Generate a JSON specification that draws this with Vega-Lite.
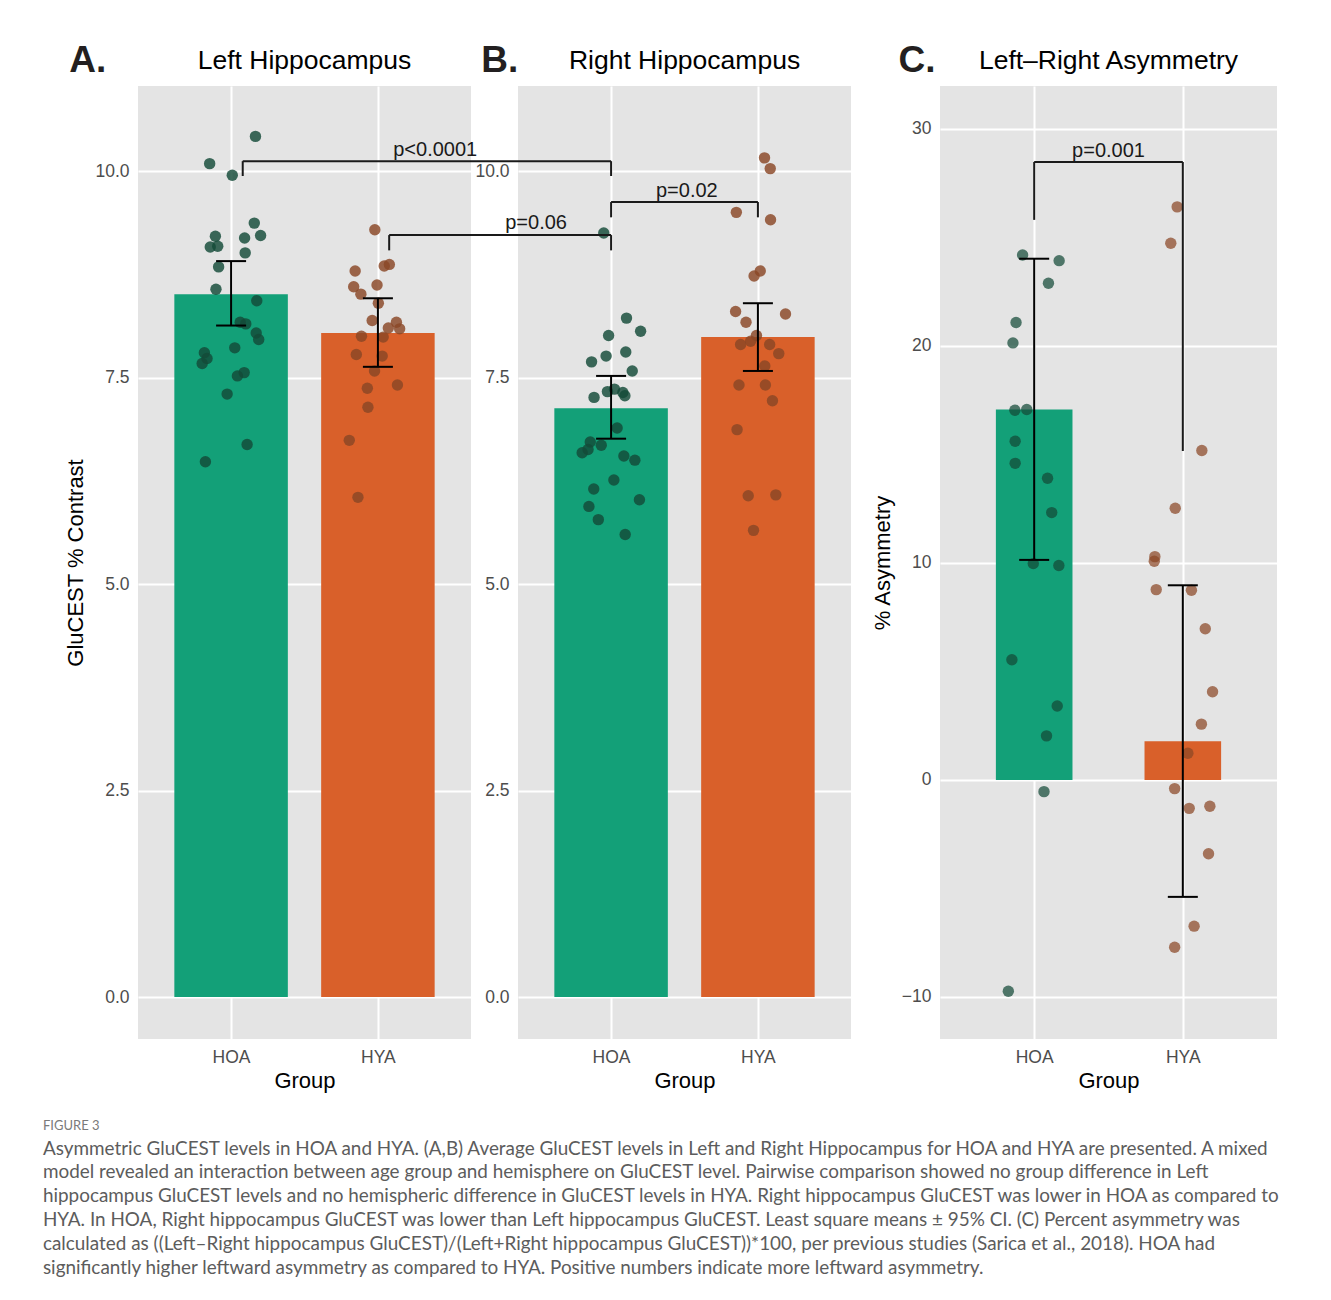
{
  "$schema": "https://vega.github.io/schema/vega-lite/v6.json",
  "padding": {"left": 42, "top": 42, "right": 10, "bottom": 6},
  "spacing": 0,
  "bounds": "flush",
  "datasets": {
    "leftSummary": [
      {"group": "HOA", "x": 1, "y": 8.51, "lo": 8.13, "hi": 8.91},
      {"group": "HYA", "x": 2, "y": 8.04, "lo": 7.63, "hi": 8.46}
    ],
    "rightSummary": [
      {"group": "HOA", "x": 1, "y": 7.13, "lo": 6.76, "hi": 7.52},
      {"group": "HYA", "x": 2, "y": 7.99, "lo": 7.58, "hi": 8.40}
    ],
    "asymSummary": [
      {"group": "HOA", "x": 1, "y": 17.07, "lo": 10.14, "hi": 24.02},
      {"group": "HYA", "x": 2, "y": 1.78, "lo": -5.39, "hi": 8.97}
    ],
    "leftPoints": [
      {"group": "HOA", "x": 1.166, "y": 10.42}, {"group": "HOA", "x": 0.854, "y": 10.09}, {"group": "HOA", "x": 1.008, "y": 9.95},
      {"group": "HOA", "x": 1.158, "y": 9.37}, {"group": "HOA", "x": 0.893, "y": 9.21}, {"group": "HOA", "x": 1.201, "y": 9.22},
      {"group": "HOA", "x": 1.092, "y": 9.19}, {"group": "HOA", "x": 0.858, "y": 9.08}, {"group": "HOA", "x": 0.909, "y": 9.09},
      {"group": "HOA", "x": 1.096, "y": 9.01}, {"group": "HOA", "x": 0.915, "y": 8.84}, {"group": "HOA", "x": 0.897, "y": 8.57},
      {"group": "HOA", "x": 1.175, "y": 8.43}, {"group": "HOA", "x": 1.062, "y": 8.17}, {"group": "HOA", "x": 1.100, "y": 8.15},
      {"group": "HOA", "x": 1.171, "y": 8.04}, {"group": "HOA", "x": 1.188, "y": 7.96}, {"group": "HOA", "x": 1.025, "y": 7.86},
      {"group": "HOA", "x": 0.818, "y": 7.80}, {"group": "HOA", "x": 0.836, "y": 7.73}, {"group": "HOA", "x": 0.803, "y": 7.67},
      {"group": "HOA", "x": 1.089, "y": 7.56}, {"group": "HOA", "x": 1.043, "y": 7.52}, {"group": "HOA", "x": 0.973, "y": 7.30},
      {"group": "HOA", "x": 1.109, "y": 6.69}, {"group": "HOA", "x": 0.825, "y": 6.48},
      {"group": "HYA", "x": 1.979, "y": 9.29}, {"group": "HYA", "x": 2.078, "y": 8.87}, {"group": "HYA", "x": 2.043, "y": 8.85},
      {"group": "HYA", "x": 1.845, "y": 8.79}, {"group": "HYA", "x": 1.835, "y": 8.60}, {"group": "HYA", "x": 1.994, "y": 8.62},
      {"group": "HYA", "x": 1.884, "y": 8.51}, {"group": "HYA", "x": 2.003, "y": 8.40}, {"group": "HYA", "x": 1.961, "y": 8.19},
      {"group": "HYA", "x": 2.126, "y": 8.17}, {"group": "HYA", "x": 2.071, "y": 8.10}, {"group": "HYA", "x": 2.148, "y": 8.09},
      {"group": "HYA", "x": 1.888, "y": 8.00}, {"group": "HYA", "x": 2.036, "y": 7.99}, {"group": "HYA", "x": 1.853, "y": 7.78},
      {"group": "HYA", "x": 2.029, "y": 7.76}, {"group": "HYA", "x": 1.977, "y": 7.58}, {"group": "HYA", "x": 1.928, "y": 7.37},
      {"group": "HYA", "x": 2.133, "y": 7.41}, {"group": "HYA", "x": 1.932, "y": 7.14}, {"group": "HYA", "x": 1.805, "y": 6.74},
      {"group": "HYA", "x": 1.864, "y": 6.05}
    ],
    "rightPoints": [
      {"group": "HOA", "x": 0.950, "y": 9.25}, {"group": "HOA", "x": 1.105, "y": 8.22}, {"group": "HOA", "x": 1.201, "y": 8.06},
      {"group": "HOA", "x": 0.983, "y": 8.01}, {"group": "HOA", "x": 1.100, "y": 7.81}, {"group": "HOA", "x": 0.966, "y": 7.76},
      {"group": "HOA", "x": 0.867, "y": 7.69}, {"group": "HOA", "x": 1.144, "y": 7.58}, {"group": "HOA", "x": 1.023, "y": 7.36},
      {"group": "HOA", "x": 0.975, "y": 7.33}, {"group": "HOA", "x": 1.080, "y": 7.32}, {"group": "HOA", "x": 0.884, "y": 7.26},
      {"group": "HOA", "x": 1.094, "y": 7.28}, {"group": "HOA", "x": 1.041, "y": 6.89}, {"group": "HOA", "x": 0.858, "y": 6.72},
      {"group": "HOA", "x": 0.933, "y": 6.68}, {"group": "HOA", "x": 0.843, "y": 6.63}, {"group": "HOA", "x": 0.803, "y": 6.59},
      {"group": "HOA", "x": 1.087, "y": 6.55}, {"group": "HOA", "x": 1.162, "y": 6.50}, {"group": "HOA", "x": 1.019, "y": 6.26},
      {"group": "HOA", "x": 0.882, "y": 6.15}, {"group": "HOA", "x": 1.193, "y": 6.02}, {"group": "HOA", "x": 0.849, "y": 5.94},
      {"group": "HOA", "x": 0.913, "y": 5.78}, {"group": "HOA", "x": 1.096, "y": 5.60},
      {"group": "HYA", "x": 2.045, "y": 10.16}, {"group": "HYA", "x": 2.084, "y": 10.03}, {"group": "HYA", "x": 1.853, "y": 9.50},
      {"group": "HYA", "x": 2.086, "y": 9.41}, {"group": "HYA", "x": 2.016, "y": 8.79}, {"group": "HYA", "x": 1.974, "y": 8.73},
      {"group": "HYA", "x": 1.848, "y": 8.30}, {"group": "HYA", "x": 2.188, "y": 8.27}, {"group": "HYA", "x": 1.919, "y": 8.17},
      {"group": "HYA", "x": 1.990, "y": 8.01}, {"group": "HYA", "x": 1.950, "y": 7.94}, {"group": "HYA", "x": 1.882, "y": 7.90},
      {"group": "HYA", "x": 2.080, "y": 7.90}, {"group": "HYA", "x": 2.142, "y": 7.79}, {"group": "HYA", "x": 2.047, "y": 7.64},
      {"group": "HYA", "x": 1.871, "y": 7.41}, {"group": "HYA", "x": 2.051, "y": 7.41}, {"group": "HYA", "x": 2.099, "y": 7.22},
      {"group": "HYA", "x": 1.858, "y": 6.87}, {"group": "HYA", "x": 1.934, "y": 6.07}, {"group": "HYA", "x": 2.122, "y": 6.08},
      {"group": "HYA", "x": 1.970, "y": 5.65}
    ],
    "asymPoints": [
      {"group": "HOA", "x": 0.922, "y": 24.19}, {"group": "HOA", "x": 1.168, "y": 23.93}, {"group": "HOA", "x": 1.096, "y": 22.89},
      {"group": "HOA", "x": 0.878, "y": 21.08}, {"group": "HOA", "x": 0.857, "y": 20.14}, {"group": "HOA", "x": 0.870, "y": 17.04},
      {"group": "HOA", "x": 0.950, "y": 17.07}, {"group": "HOA", "x": 0.872, "y": 15.61}, {"group": "HOA", "x": 0.872, "y": 14.59},
      {"group": "HOA", "x": 1.090, "y": 13.90}, {"group": "HOA", "x": 1.118, "y": 12.32}, {"group": "HOA", "x": 0.994, "y": 9.97},
      {"group": "HOA", "x": 1.166, "y": 9.88}, {"group": "HOA", "x": 0.850, "y": 5.54}, {"group": "HOA", "x": 1.155, "y": 3.41},
      {"group": "HOA", "x": 1.083, "y": 2.03}, {"group": "HOA", "x": 1.066, "y": -0.54}, {"group": "HOA", "x": 0.826, "y": -9.74},
      {"group": "HYA", "x": 1.962, "y": 26.41}, {"group": "HYA", "x": 1.919, "y": 24.73}, {"group": "HYA", "x": 2.128, "y": 15.18},
      {"group": "HYA", "x": 1.949, "y": 12.52}, {"group": "HYA", "x": 1.812, "y": 10.29}, {"group": "HYA", "x": 1.808, "y": 10.08},
      {"group": "HYA", "x": 1.821, "y": 8.77}, {"group": "HYA", "x": 2.058, "y": 8.74}, {"group": "HYA", "x": 2.151, "y": 6.97},
      {"group": "HYA", "x": 2.200, "y": 4.06}, {"group": "HYA", "x": 2.125, "y": 2.57}, {"group": "HYA", "x": 2.034, "y": 1.23},
      {"group": "HYA", "x": 1.945, "y": -0.40}, {"group": "HYA", "x": 2.043, "y": -1.31}, {"group": "HYA", "x": 2.182, "y": -1.21},
      {"group": "HYA", "x": 2.173, "y": -3.40}, {"group": "HYA", "x": 2.076, "y": -6.74}, {"group": "HYA", "x": 1.945, "y": -7.71}
    ],
    "rightBrackets": [
      {"x": -1.509, "x2": 1, "y": 10.12, "y2": 10.12},
      {"x": -1.509, "x2": -1.509, "y": 10.12, "y2": 9.94},
      {"x": 1, "x2": 1, "y": 10.12, "y2": 9.94},
      {"x": -0.5115, "x2": 1, "y": 9.225, "y2": 9.225},
      {"x": -0.5115, "x2": -0.5115, "y": 9.225, "y2": 9.04},
      {"x": 1, "x2": 1, "y": 9.225, "y2": 9.04},
      {"x": 1, "x2": 2, "y": 9.625, "y2": 9.625},
      {"x": 1, "x2": 1, "y": 9.625, "y2": 9.44},
      {"x": 2, "x2": 2, "y": 9.625, "y2": 9.44}
    ],
    "rightPLabels": [
      {"x": -0.198, "y": 10.18, "label": "p<0.0001"},
      {"x": 0.489, "y": 9.30, "label": "p=0.06"},
      {"x": 1.516, "y": 9.685, "label": "p=0.02"}
    ],
    "asymBrackets": [
      {"x": 1, "x2": 2, "y": 28.48, "y2": 28.48},
      {"x": 1, "x2": 1, "y": 28.48, "y2": 25.81},
      {"x": 2, "x2": 2, "y": 28.48, "y2": 15.16}
    ],
    "asymPLabels": [
      {"x": 1.5, "y": 28.71, "label": "p=0.001"}
    ],
    "leftLetter": [{"x": -0.102, "y": 11.332, "label": "A."}],
    "leftTitle": [{"x": 1.5, "y": 11.332, "label": "Left Hippocampus"}],
    "rightLetter": [{"x": 0.116, "y": 11.332, "label": "B."}],
    "rightTitle": [{"x": 1.5, "y": 11.332, "label": "Right Hippocampus"}],
    "asymLetter": [{"x": 0.087, "y": 33.13, "label": "C."}],
    "asymTitle": [{"x": 1.5, "y": 33.13, "label": "Left\u2013Right Asymmetry"}]
  },
  "title": {
    "text": "FIGURE 3",
    "subtitle": [
      "Asymmetric GluCEST levels in HOA and HYA. (A,B) Average GluCEST levels in Left and Right Hippocampus for HOA and HYA are presented. A mixed",
      "model revealed an interaction between age group and hemisphere on GluCEST level. Pairwise comparison showed no group difference in Left",
      "hippocampus GluCEST levels and no hemispheric difference in GluCEST levels in HYA. Right hippocampus GluCEST was lower in HOA as compared to",
      "HYA. In HOA, Right hippocampus GluCEST was lower than Left hippocampus GluCEST. Least square means \u00b1 95% CI. (C) Percent asymmetry was",
      "calculated as ((Left\u2013Right hippocampus GluCEST)/(Left+Right hippocampus GluCEST))*100, per previous studies (Sarica et al., 2018). HOA had",
      "significantly higher leftward asymmetry as compared to HYA. Positive numbers indicate more leftward asymmetry."
    ],
    "orient": "bottom",
    "anchor": "start",
    "frame": "bounds",
    "dx": -22,
    "offset": 28,
    "font": "Lato",
    "fontSize": 13,
    "fontWeight": "normal",
    "color": "#7a7a7a",
    "subtitleFont": "Lato",
    "subtitleFontSize": 18.9,
    "subtitleColor": "#5c5c5c",
    "subtitleLineHeight": 23.8,
    "subtitlePadding": 7
  },
  "hconcat": [
    {
      "width": 333,
      "height": 953,
      "view": {"fill": "#E4E4E4", "stroke": null},
      "encoding": {
        "x": {"field": "x", "type": "quantitative", "scale": {"domain": [0.4, 2.6], "nice": false, "zero": false}, "axis": {"values": [1, 2], "labelExpr": "datum.value == 1 ? 'HOA' : 'HYA'", "title": "Group"}},
        "y": {"field": "y", "type": "quantitative", "scale": {"domain": [-0.508, 11.03], "nice": false, "zero": false}, "axis": {"values": [0, 2.5, 5, 7.5, 10], "format": ".1f", "title": "GluCEST % Contrast"}}
      },
      "layer": [
        {"data": {"name": "leftSummary"}, "mark": {"type": "bar", "width": 113.5}, "encoding": {"y2": {"datum": 0}, "color": {"field": "group", "type": "nominal", "scale": {"domain": ["HOA", "HYA"], "range": ["#13A078", "#D9602A"]}, "legend": null}}},
        {"data": {"name": "leftPoints"}, "mark": {"type": "circle", "size": 130, "opacity": 0.82}, "encoding": {"fill": {"field": "group", "type": "nominal", "scale": {"domain": ["HOA", "HYA"], "range": ["#144A38", "#8A4726"]}, "legend": null}}},
        {"data": {"name": "leftSummary"}, "mark": {"type": "rule", "color": "#000000", "strokeWidth": 2}, "encoding": {"y": {"field": "lo", "type": "quantitative"}, "y2": {"field": "hi"}}},
        {"data": {"name": "leftSummary"}, "mark": {"type": "tick", "orient": "horizontal", "size": 30, "thickness": 2, "color": "#000000", "opacity": 1}, "encoding": {"y": {"field": "lo", "type": "quantitative"}}},
        {"data": {"name": "leftSummary"}, "mark": {"type": "tick", "orient": "horizontal", "size": 30, "thickness": 2, "color": "#000000", "opacity": 1}, "encoding": {"y": {"field": "hi", "type": "quantitative"}}},
        {"data": {"name": "leftLetter"}, "mark": {"type": "text", "font": "Liberation Sans", "fontSize": 37, "fontWeight": "bold", "align": "left", "baseline": "middle", "color": "#231f20"}, "encoding": {"text": {"field": "label"}}},
        {"data": {"name": "leftTitle"}, "mark": {"type": "text", "font": "Liberation Sans", "fontSize": 26.5, "align": "center", "baseline": "middle", "color": "#000000"}, "encoding": {"text": {"field": "label"}}}
      ]
    },
    {
      "width": 47, "height": 953,
      "view": {"fill": null, "stroke": null},
      "data": {"values": []},
      "mark": {"type": "point"},
      "encoding": {}
    },
    {
      "width": 333,
      "height": 953,
      "view": {"fill": "#E4E4E4", "stroke": null},
      "encoding": {
        "x": {"field": "x", "type": "quantitative", "scale": {"domain": [0.4, 2.6], "nice": false, "zero": false}, "axis": {"values": [1, 2], "labelExpr": "datum.value == 1 ? 'HOA' : 'HYA'", "title": "Group"}},
        "y": {"field": "y", "type": "quantitative", "scale": {"domain": [-0.508, 11.03], "nice": false, "zero": false}, "axis": {"values": [0, 2.5, 5, 7.5, 10], "format": ".1f", "title": null}}
      },
      "layer": [
        {"data": {"name": "rightSummary"}, "mark": {"type": "bar", "width": 113.5}, "encoding": {"y2": {"datum": 0}, "color": {"field": "group", "type": "nominal", "scale": {"domain": ["HOA", "HYA"], "range": ["#13A078", "#D9602A"]}, "legend": null}}},
        {"data": {"name": "rightPoints"}, "mark": {"type": "circle", "size": 130, "opacity": 0.82}, "encoding": {"fill": {"field": "group", "type": "nominal", "scale": {"domain": ["HOA", "HYA"], "range": ["#144A38", "#8A4726"]}, "legend": null}}},
        {"data": {"name": "rightSummary"}, "mark": {"type": "rule", "color": "#000000", "strokeWidth": 2}, "encoding": {"y": {"field": "lo", "type": "quantitative"}, "y2": {"field": "hi"}}},
        {"data": {"name": "rightSummary"}, "mark": {"type": "tick", "orient": "horizontal", "size": 30, "thickness": 2, "color": "#000000", "opacity": 1}, "encoding": {"y": {"field": "lo", "type": "quantitative"}}},
        {"data": {"name": "rightSummary"}, "mark": {"type": "tick", "orient": "horizontal", "size": 30, "thickness": 2, "color": "#000000", "opacity": 1}, "encoding": {"y": {"field": "hi", "type": "quantitative"}}},
        {"data": {"name": "rightBrackets"}, "mark": {"type": "rule", "color": "#1a1a1a", "strokeWidth": 2}, "encoding": {"x2": {"field": "x2"}, "y2": {"field": "y2"}}},
        {"data": {"name": "rightPLabels"}, "mark": {"type": "text", "font": "Liberation Sans", "fontSize": 20, "align": "center", "baseline": "alphabetic", "color": "#1a1a1a"}, "encoding": {"text": {"field": "label"}}},
        {"data": {"name": "rightLetter"}, "mark": {"type": "text", "font": "Liberation Sans", "fontSize": 37, "fontWeight": "bold", "align": "left", "baseline": "middle", "color": "#231f20"}, "encoding": {"text": {"field": "label"}}},
        {"data": {"name": "rightTitle"}, "mark": {"type": "text", "font": "Liberation Sans", "fontSize": 26.5, "align": "center", "baseline": "middle", "color": "#000000"}, "encoding": {"text": {"field": "label"}}}
      ]
    },
    {
      "width": 89, "height": 953,
      "view": {"fill": null, "stroke": null},
      "data": {"values": []},
      "mark": {"type": "point"},
      "encoding": {}
    },
    {
      "width": 337,
      "height": 953,
      "view": {"fill": "#E4E4E4", "stroke": null},
      "encoding": {
        "x": {"field": "x", "type": "quantitative", "scale": {"domain": [0.4, 2.6], "nice": false, "zero": false}, "axis": {"values": [1, 2], "labelExpr": "datum.value == 1 ? 'HOA' : 'HYA'", "title": "Group"}},
        "y": {"field": "y", "type": "quantitative", "scale": {"domain": [-11.94, 31.98], "nice": false, "zero": false}, "axis": {"values": [-10, 0, 10, 20, 30], "format": "d", "title": "% Asymmetry"}}
      },
      "layer": [
        {"data": {"name": "asymSummary"}, "mark": {"type": "bar", "width": 76.6}, "encoding": {"y2": {"datum": 0}, "color": {"field": "group", "type": "nominal", "scale": {"domain": ["HOA", "HYA"], "range": ["#13A078", "#D9602A"]}, "legend": null}}},
        {"data": {"name": "asymPoints"}, "mark": {"type": "circle", "size": 130, "opacity": 0.72}, "encoding": {"fill": {"field": "group", "type": "nominal", "scale": {"domain": ["HOA", "HYA"], "range": ["#144A38", "#8A4726"]}, "legend": null}}},
        {"data": {"name": "asymSummary"}, "mark": {"type": "rule", "color": "#000000", "strokeWidth": 2}, "encoding": {"y": {"field": "lo", "type": "quantitative"}, "y2": {"field": "hi"}}},
        {"data": {"name": "asymSummary"}, "mark": {"type": "tick", "orient": "horizontal", "size": 30, "thickness": 2, "color": "#000000", "opacity": 1}, "encoding": {"y": {"field": "lo", "type": "quantitative"}}},
        {"data": {"name": "asymSummary"}, "mark": {"type": "tick", "orient": "horizontal", "size": 30, "thickness": 2, "color": "#000000", "opacity": 1}, "encoding": {"y": {"field": "hi", "type": "quantitative"}}},
        {"data": {"name": "asymBrackets"}, "mark": {"type": "rule", "color": "#1a1a1a", "strokeWidth": 2}, "encoding": {"x2": {"field": "x2"}, "y2": {"field": "y2"}}},
        {"data": {"name": "asymPLabels"}, "mark": {"type": "text", "font": "Liberation Sans", "fontSize": 20, "align": "center", "baseline": "alphabetic", "color": "#1a1a1a"}, "encoding": {"text": {"field": "label"}}},
        {"data": {"name": "asymLetter"}, "mark": {"type": "text", "font": "Liberation Sans", "fontSize": 37, "fontWeight": "bold", "align": "left", "baseline": "middle", "color": "#231f20"}, "encoding": {"text": {"field": "label"}}},
        {"data": {"name": "asymTitle"}, "mark": {"type": "text", "font": "Liberation Sans", "fontSize": 26.5, "align": "center", "baseline": "middle", "color": "#000000"}, "encoding": {"text": {"field": "label"}}}
      ]
    }
  ],
  "config": {
    "view": {"stroke": null},
    "axis": {
      "domain": false,
      "ticks": false,
      "grid": true,
      "gridColor": "#ffffff",
      "gridWidth": 2,
      "labelFont": "Liberation Sans",
      "labelFontSize": 17.5,
      "labelColor": "#4d4d4d",
      "labelPadding": 9,
      "titleFont": "Liberation Sans",
      "titleFontSize": 22,
      "titleFontWeight": "normal",
      "titleColor": "#000000"
    },
    "axisX": {"titlePadding": 5},
    "axisY": {"titlePadding": 7}
  }
}
